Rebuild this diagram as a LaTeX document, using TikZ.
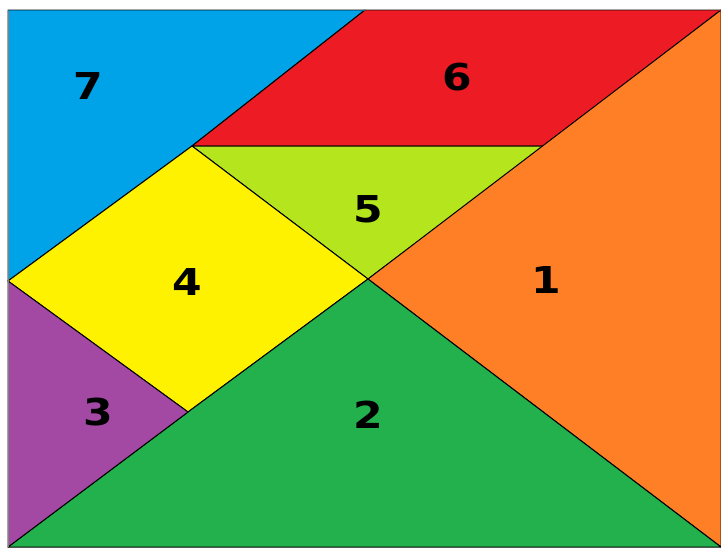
\documentclass[tikz,border=0pt]{standalone}
\usepackage{fontspec}
\newfontfamily\digitfont{DejaVu Sans}[BoldFont={DejaVu Sans Bold}]
\definecolor{tblue}{RGB}{0,162,232}
\definecolor{tred}{RGB}{237,28,36}
\definecolor{tlime}{RGB}{181,230,29}
\definecolor{tyellow}{RGB}{255,242,0}
\definecolor{torange}{RGB}{255,127,39}
\definecolor{tgreen}{RGB}{34,177,76}
\definecolor{tpurple}{RGB}{163,73,164}
\tikzset{
  piece/.style={draw=black, line width=1pt, line join=round},
  numlabel/.style={font=\digitfont\bfseries\fontsize{37}{37}\selectfont, text=black, inner sep=0pt, xscale=1.15},
}
\begin{document}
\begin{tikzpicture}[x=1pt,y=-1pt]
\useasboundingbox (0,0) rectangle (721,547);
\fill[white] (0,0) rectangle (721,547);
% key points
\coordinate (TL) at (8,10);
\coordinate (T) at (365,10);
\coordinate (TR) at (721,10);
\coordinate (BR) at (721,547);
\coordinate (BL) at (8,547);
\coordinate (P) at (192,146);
\coordinate (R) at (545,146);
\coordinate (C) at (368,279);
\coordinate (L) at (8,281);
\coordinate (Q) at (188,412);
% pieces
\filldraw[piece, fill=tblue] (TL) -- (T) -- (P) -- (L) -- cycle;
\filldraw[piece, fill=tred] (T) -- (TR) -- (R) -- (P) -- cycle;
\filldraw[piece, fill=tlime] (P) -- (R) -- (C) -- cycle;
\filldraw[piece, fill=tyellow] (P) -- (C) -- (Q) -- (L) -- cycle;
\filldraw[piece, fill=torange] (TR) -- (BR) -- (C) -- cycle;
\filldraw[piece, fill=tgreen] (C) -- (BR) -- (BL) -- (Q) -- cycle;
\filldraw[piece, fill=tpurple] (L) -- (Q) -- (BL) -- cycle;
% frame edges
\draw[gray, line width=1pt] (TL) -- (BL);
\draw[tred!70!black, line width=0.6pt] (T) -- (TR);
\draw[tblue!70!black, line width=0.6pt] (TL) -- (T);
% labels
\node[numlabel] (n7) at (88,86) {7};
\node[numlabel] (n6) at (457,77) {6};
\node[numlabel] (n5) at (368,209) {5};
\node[numlabel] (n4) at (187,282) {4};
\node[numlabel] (n1) at (546,280) {1};
\node[numlabel] (n3) at (98,412) {3};
\node[numlabel] (n2) at (368,415) {2};
\end{tikzpicture}
\end{document}
